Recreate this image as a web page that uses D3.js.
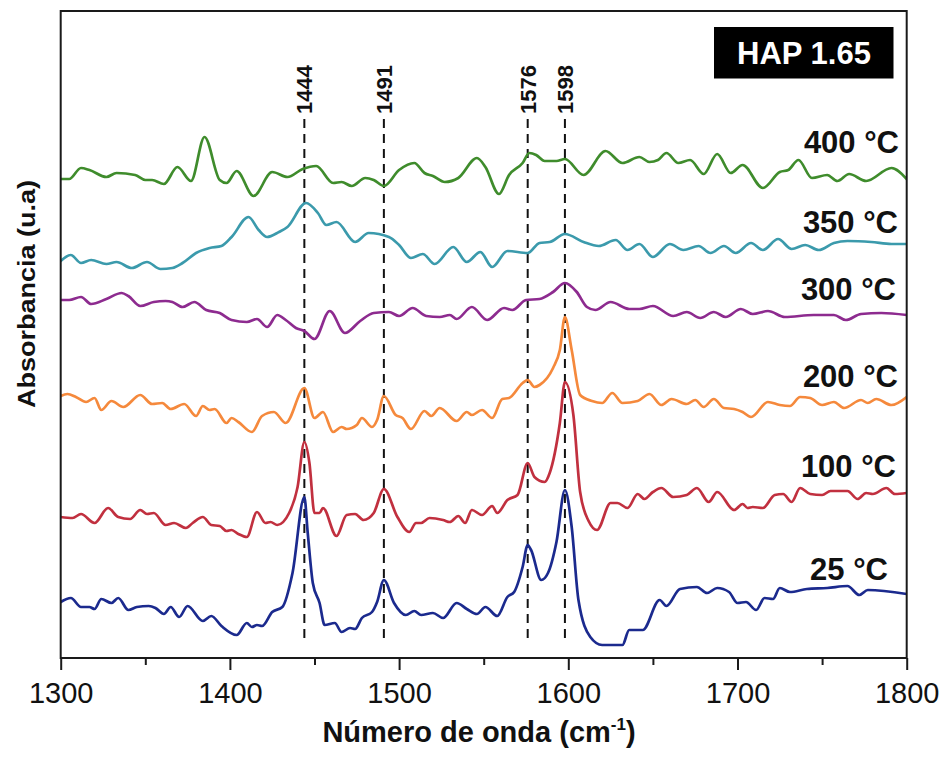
<!DOCTYPE html>
<html>
<head>
<meta charset="utf-8">
<script src="https://cdn.jsdelivr.net/npm/d3@7"></script>
<style>
  html, body { margin: 0; padding: 0; background: #ffffff; }
  svg { display: block; font-family: "Liberation Sans", Arial, sans-serif; }
</style>
</head>
<body>
<svg id="chart" width="947" height="758"></svg>
<script>
// ---------------- DATA ----------------
const xTicks = [1300, 1400, 1500, 1600, 1700, 1800];
const xMinorTicks = [1350, 1450, 1550, 1650, 1750];
const peakLines = [1444, 1491, 1576, 1598];
const seriesNames = ["25 °C", "100 °C", "200 °C", "300 °C", "350 °C", "400 °C"];
const boxLabel = "HAP 1.65";

const wn400 = [1300,1305,1312,1317,1327,1333,1344,1350,1354,1361,1369,1377,1385,1394,1398,1404,1414,1425,1434,1443,1451,1461,1466,1472,1480,1485,1491,1500,1509,1515,1520,1527,1535,1546,1551,1559,1565,1573,1577,1581,1586,1593,1598,1609,1622,1632,1642,1648,1653,1658,1665,1672,1680,1688,1696,1703,1715,1725,1730,1736,1744,1753,1759,1766,1776,1791,1800];
const a400 = [4.78,4.78,4.89,4.87,4.80,4.84,4.82,4.77,4.77,4.73,4.90,4.76,5.20,4.77,4.74,4.86,4.61,4.85,4.80,4.88,4.91,4.74,4.75,4.71,4.79,4.77,4.71,4.87,4.94,4.84,4.81,4.75,4.79,4.99,4.90,4.63,4.82,4.94,5.04,5.02,4.96,4.96,4.98,4.82,5.06,4.94,5.00,4.95,4.97,5.04,4.94,4.97,4.83,5.03,4.84,4.92,4.69,4.85,4.87,4.97,4.79,4.82,4.76,4.83,4.76,4.89,4.78];

const wn350 = [1300,1306,1312,1318,1327,1333,1342,1351,1359,1366,1372,1380,1388,1395,1401,1411,1417,1422,1429,1434,1445,1452,1457,1463,1474,1482,1494,1500,1507,1514,1521,1532,1540,1548,1555,1564,1576,1583,1589,1598,1609,1618,1628,1635,1642,1650,1660,1668,1677,1684,1692,1699,1708,1715,1724,1732,1740,1748,1757,1765,1779,1791,1800];
const a350 = [3.96,4.02,3.94,3.97,3.93,3.95,3.89,3.95,3.88,3.89,3.94,4.04,4.09,4.11,4.20,4.40,4.27,4.20,4.25,4.30,4.54,4.44,4.32,4.35,4.15,4.24,4.20,4.12,3.99,4.03,3.93,4.10,3.95,4.05,3.90,4.06,4.04,4.14,4.15,4.23,4.15,4.11,4.17,4.07,4.13,4.00,4.13,4.07,4.11,4.04,4.11,4.04,4.14,4.07,4.18,4.08,4.12,4.07,4.14,4.16,4.15,4.13,4.13];

const wn300 = [1300,1305,1312,1318,1327,1336,1340,1347,1355,1362,1366,1372,1379,1386,1394,1401,1410,1416,1422,1428,1433,1439,1444,1450,1459,1468,1477,1485,1494,1500,1508,1516,1524,1530,1534,1543,1552,1562,1567,1575,1583,1591,1598,1605,1611,1616,1625,1636,1642,1650,1662,1670,1678,1686,1693,1702,1709,1718,1728,1745,1757,1764,1773,1785,1800];
const a300 = [3.57,3.57,3.60,3.53,3.58,3.64,3.61,3.51,3.55,3.56,3.55,3.50,3.55,3.47,3.44,3.37,3.35,3.38,3.30,3.42,3.37,3.29,3.26,3.18,3.46,3.24,3.36,3.44,3.45,3.41,3.49,3.41,3.40,3.42,3.38,3.50,3.37,3.49,3.47,3.57,3.58,3.65,3.74,3.65,3.50,3.47,3.55,3.48,3.48,3.51,3.41,3.45,3.39,3.45,3.40,3.48,3.43,3.46,3.40,3.42,3.42,3.37,3.43,3.44,3.42];

const wn200 = [1300,1304,1309,1315,1320,1324,1330,1337,1347,1354,1360,1365,1373,1380,1384,1388,1391,1398,1401,1405,1413,1419,1426,1433,1444,1450,1455,1461,1466,1469,1475,1478,1484,1487,1491,1498,1502,1507,1515,1519,1524,1534,1540,1543,1549,1555,1561,1565,1573,1576,1580,1583,1591,1595,1598,1602,1607,1614,1620,1626,1632,1641,1648,1655,1661,1670,1675,1680,1686,1692,1698,1703,1708,1718,1725,1731,1737,1743,1750,1757,1763,1773,1777,1782,1791,1800];
const a200 = [2.61,2.63,2.60,2.55,2.59,2.47,2.56,2.50,2.62,2.53,2.54,2.48,2.53,2.41,2.51,2.47,2.48,2.34,2.39,2.35,2.25,2.41,2.45,2.34,2.69,2.39,2.45,2.25,2.30,2.28,2.32,2.39,2.30,2.37,2.61,2.42,2.39,2.28,2.46,2.41,2.49,2.36,2.45,2.42,2.47,2.39,2.58,2.59,2.74,2.77,2.70,2.72,2.89,3.07,3.40,3.07,2.62,2.56,2.54,2.64,2.54,2.56,2.63,2.52,2.58,2.53,2.57,2.50,2.58,2.49,2.48,2.45,2.40,2.55,2.52,2.51,2.60,2.59,2.52,2.55,2.49,2.57,2.54,2.58,2.52,2.60];

const wn100 = [1300,1307,1312,1320,1328,1334,1341,1347,1351,1355,1362,1367,1374,1378,1384,1389,1394,1398,1401,1405,1410,1416,1421,1424,1428,1435,1440,1444,1447,1450,1453,1455,1463,1469,1474,1479,1485,1491,1499,1506,1510,1513,1518,1526,1530,1535,1539,1543,1549,1555,1558,1564,1570,1576,1580,1586,1589,1595,1598,1603,1607,1612,1617,1625,1629,1635,1641,1645,1650,1655,1662,1670,1676,1683,1688,1698,1703,1706,1709,1715,1722,1727,1732,1737,1743,1750,1755,1765,1771,1776,1780,1788,1793,1800];
const a100 = [1.40,1.39,1.43,1.34,1.49,1.40,1.38,1.47,1.43,1.44,1.32,1.34,1.29,1.34,1.40,1.32,1.31,1.26,1.27,1.23,1.20,1.45,1.34,1.35,1.32,1.44,1.70,2.15,1.94,1.44,1.44,1.49,1.21,1.42,1.43,1.37,1.44,1.68,1.40,1.25,1.34,1.34,1.39,1.37,1.35,1.41,1.34,1.47,1.42,1.51,1.44,1.57,1.62,1.94,1.80,1.75,1.84,2.34,2.75,2.42,1.65,1.36,1.27,1.54,1.54,1.49,1.63,1.58,1.65,1.69,1.60,1.62,1.69,1.55,1.65,1.47,1.53,1.49,1.50,1.49,1.62,1.63,1.55,1.69,1.63,1.62,1.66,1.66,1.58,1.64,1.63,1.69,1.63,1.64];

const wn25 = [1300,1306,1312,1317,1320,1324,1330,1334,1340,1345,1352,1356,1361,1365,1370,1375,1384,1389,1395,1404,1410,1413,1416,1419,1425,1431,1437,1444,1446,1449,1453,1456,1462,1466,1471,1474,1478,1484,1487,1491,1497,1504,1509,1513,1520,1526,1534,1540,1546,1551,1558,1564,1568,1573,1576,1578,1584,1588,1593,1598,1602,1606,1613,1620,1632,1636,1644,1654,1658,1666,1676,1682,1688,1695,1700,1705,1711,1716,1721,1725,1731,1741,1753,1765,1772,1777,1800];
const a25 = [0.55,0.59,0.50,0.50,0.48,0.58,0.54,0.59,0.47,0.50,0.51,0.49,0.43,0.50,0.40,0.51,0.36,0.41,0.31,0.22,0.34,0.30,0.32,0.31,0.45,0.50,0.84,1.60,1.24,0.74,0.54,0.32,0.34,0.25,0.29,0.28,0.39,0.45,0.55,0.77,0.54,0.42,0.46,0.42,0.44,0.39,0.54,0.48,0.43,0.50,0.41,0.60,0.65,0.90,1.12,1.07,0.77,0.84,1.15,1.67,1.30,0.57,0.20,0.12,0.12,0.27,0.27,0.57,0.51,0.68,0.70,0.64,0.69,0.65,0.54,0.55,0.47,0.59,0.58,0.69,0.65,0.68,0.69,0.71,0.62,0.67,0.63];

// ---------------- LAYOUT / STYLE ----------------
const colors = ["#1b2a8e", "#c1303f", "#f5893c", "#8d2b8f", "#3b9aac", "#3f8c2c"];
const labelBaselines = [580, 477, 387, 300, 233, 153];
const labelRight = [888, 896, 898, 896, 898, 899];
const FONT = '"Liberation Sans", Arial, sans-serif';

const W = 947, H = 758;
const P = { left: 60.7, right: 906.7, top: 11, bottom: 658 };

const svg = d3.select("#chart");
svg.append("rect").attr("width", W).attr("height", H).attr("fill", "#ffffff");

const x = d3.scaleLinear().domain([1300, 1800]).range([P.left, P.right]);
const y = d3.scaleLinear().domain([-0.01, 6.46]).range([P.bottom, P.top]);

svg.append("clipPath").attr("id", "plotclip")
  .append("rect")
  .attr("x", P.left).attr("y", P.top)
  .attr("width", P.right - P.left).attr("height", P.bottom - P.top);

// dashed peak lines
const gPeaks = svg.append("g");
gPeaks.selectAll("line").data(peakLines).join("line")
  .attr("x1", d => x(d)).attr("x2", d => x(d))
  .attr("y1", 119).attr("y2", 638)
  .attr("stroke", "#111").attr("stroke-width", 2)
  .attr("stroke-dasharray", "9,6");
gPeaks.selectAll("text").data(peakLines).join("text")
  .attr("transform", d => `translate(${x(d)},114) rotate(-90)`)
  .attr("dy", "0.36em")
  .attr("text-anchor", "start")
  .attr("font-family", FONT).attr("font-size", 22).attr("font-weight", "bold")
  .attr("fill", "#111")
  .text(d => d);

// series
const series = [
  { wn: wn25, a: a25 },
  { wn: wn100, a: a100 },
  { wn: wn200, a: a200 },
  { wn: wn300, a: a300 },
  { wn: wn350, a: a350 },
  { wn: wn400, a: a400 }
];
const line = d3.line()
  .x(d => x(d[0])).y(d => y(d[1]))
  .curve(d3.curveMonotoneX);

const gLines = svg.append("g").attr("clip-path", "url(#plotclip)");
series.forEach((s, i) => {
  const pts = s.wn.map((w, k) => [w, s.a[k]]);
  gLines.append("path")
    .attr("d", line(pts))
    .attr("fill", "none")
    .attr("stroke", colors[i])
    .attr("stroke-width", 2.7)
    .attr("stroke-linejoin", "round")
    .attr("stroke-linecap", "round");
});

// series labels
svg.append("g").selectAll("text").data(seriesNames).join("text")
  .attr("x", (d, i) => labelRight[i])
  .attr("y", (d, i) => labelBaselines[i])
  .attr("text-anchor", "end")
  .attr("font-family", FONT).attr("font-size", 31).attr("font-weight", "bold")
  .attr("fill", "#111")
  .text(d => d);

// frame
svg.append("rect")
  .attr("x", P.left).attr("y", P.top)
  .attr("width", P.right - P.left).attr("height", P.bottom - P.top)
  .attr("fill", "none").attr("stroke", "#1a1a1a").attr("stroke-width", 2);

// x axis
const axMajor = d3.axisBottom(x).tickValues(xTicks).tickSize(12).tickPadding(12.5).tickFormat(d3.format("d"));
const gAx = svg.append("g").attr("transform", `translate(0,${P.bottom})`).call(axMajor);
gAx.select(".domain").remove();
gAx.selectAll(".tick line").attr("stroke", "#1a1a1a").attr("stroke-width", 2);
gAx.selectAll(".tick text")
  .attr("font-family", FONT).attr("font-size", 29).attr("fill", "#111");

const axMinor = d3.axisBottom(x).tickValues(xMinorTicks).tickSize(7).tickFormat("");
const gMin = svg.append("g").attr("transform", `translate(0,${P.bottom})`).call(axMinor);
gMin.select(".domain").remove();
gMin.selectAll(".tick line").attr("stroke", "#1a1a1a").attr("stroke-width", 2);

// axis titles
const xt = svg.append("text")
  .attr("x", 479).attr("y", 742)
  .attr("text-anchor", "middle")
  .attr("font-family", FONT).attr("font-size", 29).attr("font-weight", "bold")
  .attr("fill", "#111");
xt.append("tspan").text("Número de onda (cm");
xt.append("tspan").attr("dy", -12).attr("font-size", 17).text("-1");
xt.append("tspan").attr("dy", 12).text(")");

svg.append("text")
  .attr("transform", "translate(35,294) rotate(-90)")
  .attr("text-anchor", "middle")
  .attr("font-family", FONT).attr("font-size", 24).attr("font-weight", "bold")
  .attr("textLength", 228).attr("lengthAdjust", "spacingAndGlyphs")
  .attr("fill", "#111")
  .text("Absorbancia (u.a)");

// label box
const bx = svg.append("g");
bx.append("rect")
  .attr("x", 714).attr("y", 27).attr("width", 179.5).attr("height", 51.5)
  .attr("fill", "#000");
bx.append("text")
  .attr("x", 804).attr("y", 63.5)
  .attr("text-anchor", "middle")
  .attr("font-family", FONT).attr("font-size", 31).attr("font-weight", "bold")
  .attr("fill", "#ffffff")
  .text(boxLabel);
</script>
</body>
</html>
